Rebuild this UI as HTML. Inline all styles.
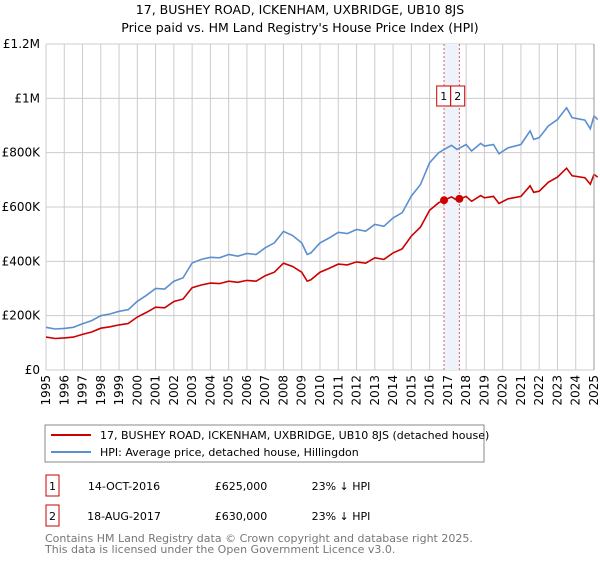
<!DOCTYPE html>
<html><head><meta charset="utf-8"><style>
body{margin:0;background:#fff;font-family:"Liberation Sans","DejaVu Sans",sans-serif;}
svg text{font-family:"DejaVu Sans","Liberation Sans",sans-serif;}
</style></head><body>
<svg id="c" width="600" height="560" xmlns="http://www.w3.org/2000/svg">
<text x="300" y="14" text-anchor="middle" font-size="12.5" fill="#000">17, BUSHEY ROAD, ICKENHAM, UXBRIDGE, UB10 8JS</text>
<text x="300" y="32" text-anchor="middle" font-size="12.5" fill="#000">Price paid vs. HM Land Registry's House Price Index (HPI)</text>
<g id="grid"></g><g id="band"></g><g id="series"></g><g id="axes"></g>
<rect x="45" y="425" width="439" height="37" fill="#fff" stroke="#888"/>
<line x1="51" y1="435" x2="91" y2="435" stroke="#cc0000" stroke-width="2"/>
<text x="100" y="439" font-size="11">17, BUSHEY ROAD, ICKENHAM, UXBRIDGE, UB10 8JS (detached house)</text>
<line x1="51" y1="452" x2="91" y2="452" stroke="#5b8fd0" stroke-width="2"/>
<text x="100" y="456" font-size="11">HPI: Average price, detached house, Hillingdon</text>
<rect x="46" y="475" width="13" height="21" fill="none" stroke="#cc0000"/>
<text x="52.5" y="490" text-anchor="middle" font-size="11">1</text>
<text x="124" y="490" text-anchor="middle" font-size="11">14-OCT-2016</text>
<text x="241" y="490" text-anchor="middle" font-size="11">£625,000</text>
<text x="341" y="490" text-anchor="middle" font-size="11">23% ↓ HPI</text>
<rect x="46" y="505" width="13" height="21" fill="none" stroke="#cc0000"/>
<text x="52.5" y="520" text-anchor="middle" font-size="11">2</text>
<text x="124" y="520" text-anchor="middle" font-size="11">18-AUG-2017</text>
<text x="241" y="520" text-anchor="middle" font-size="11">£630,000</text>
<text x="341" y="520" text-anchor="middle" font-size="11">23% ↓ HPI</text>
<text x="45" y="542" font-size="11" fill="#777">Contains HM Land Registry data © Crown copyright and database right 2025.</text>
<text x="45" y="553" font-size="11" fill="#777">This data is licensed under the Open Government Licence v3.0.</text>
</svg>
<script>
const years=[1995,1995.5,1996,1996.5,1997,1997.5,1998,1998.5,1999,1999.5,2000,2000.5,2001,2001.5,2002,2002.5,2003,2003.5,2004,2004.5,2005,2005.5,2006,2006.5,2007,2007.5,2008,2008.5,2009,2009.3,2009.5,2010,2010.5,2011,2011.5,2012,2012.5,2013,2013.5,2014,2014.5,2015,2015.5,2016,2016.5,2016.8,2017.2,2017.5,2018,2018.3,2018.8,2019,2019.5,2019.8,2020.3,2021,2021.5,2021.7,2022,2022.5,2023,2023.5,2023.8,2024.5,2024.8,2025,2025.2];
const hpiK=[157,151,153,157,170,182,200,206,216,222,253,275,300,298,327,339,394,407,415,413,425,419,429,425,450,468,510,495,468,425,431,468,486,507,502,517,511,536,529,560,579,640,683,763,800,812,827,812,830,806,834,824,830,796,818,830,880,849,855,898,922,965,929,920,888,935,922];
const propK=[121,116,118,121,131,140,154,159,166,171,195,212,231,229,252,261,303,313,320,318,327,323,330,327,347,360,393,381,360,327,332,360,374,390,387,398,393,413,407,431,446,493,526,588,616,625,637,625,639,621,642,634,639,613,630,639,678,654,658,691,710,743,715,708,684,720,710];
const saleYears=[2016.79,2017.63];
const salePricesK=[625,630];
const yTicks=[0,200,400,600,800,1000,1200];
const yTickLabels=["£0","£200K","£400K","£600K","£800K","£1M","£1.2M"];
const xTicks=[1995,1996,1997,1998,1999,2000,2001,2002,2003,2004,2005,2006,2007,2008,2009,2010,2011,2012,2013,2014,2015,2016,2017,2018,2019,2020,2021,2022,2023,2024,2025];
const NS="http://www.w3.org/2000/svg";
const X=y=>46+(y-1995)*(548/30);
const Y=v=>370-v*(326/1200);
function mk(p,t,a){const e=document.createElementNS(NS,t);for(const k in a)e.setAttribute(k,a[k]);document.getElementById(p).appendChild(e);return e;}
yTicks.forEach((v,i)=>{
 const l=mk('grid','line',{x1:46,x2:594,y1:Y(v),y2:Y(v),stroke:'#ccc'});
 
 
 const t=mk('axes','text',{x:40,y:Y(v)+4,'text-anchor':'end','font-size':12});
 t.textContent=yTickLabels[i];
 
 
});
xTicks.forEach(yr=>{
 const l=mk('grid','line',{x1:X(yr),x2:X(yr),y1:44,y2:370,stroke:'#ccc'});
 
 
 const t=mk('axes','text',{x:0,y:0,'text-anchor':'end','font-size':12,transform:`translate(${X(yr)+4},375) rotate(-90)`});
 t.textContent=yr;
 
 
});
const b=mk('band','rect',{x:X(saleYears[0]),y:44,width:X(saleYears[1])-X(saleYears[0]),height:326,fill:'#eef3fb'});


const mid=(X(saleYears[0])+X(saleYears[1]))/2;
saleYears.forEach((yr,i)=>{
 const l=mk('band','line',{x1:X(yr),x2:X(yr),y1:44,y2:370,stroke:'#e06060','stroke-dasharray':'2,2'});
 
 
 const bx=i===0?mid-15:mid-1;
 const r=mk('band','rect',{x:bx,y:86,width:14,height:20,fill:'#fff',stroke:'#cc0000'});
 
 
 const t=mk('band','text',{x:bx+7,y:100,'text-anchor':'middle','font-size':11});
 t.textContent=String(i+1);
 
 
});
function path(vals,col,name){
 const d=vals.map((v,i)=>(i?'L':'M')+X(years[i]).toFixed(1)+','+Y(v).toFixed(1)).join('');
 const p=mk('series','path',{d:d,fill:'none',stroke:col,'stroke-width':1.6});
 
 
}
path(hpiK,'#5b8fd0','hpi-line');
path(propK,'#cc0000','property-line');
saleYears.forEach((yr,i)=>{
 const c=mk('series','circle',{cx:X(yr),cy:Y(salePricesK[i]),r:4,fill:'#cc0000'});
 
 
});
const ax=mk('axes','line',{x1:594,x2:594,y1:44,y2:370,stroke:'#999'});


</script>
</body></html>
